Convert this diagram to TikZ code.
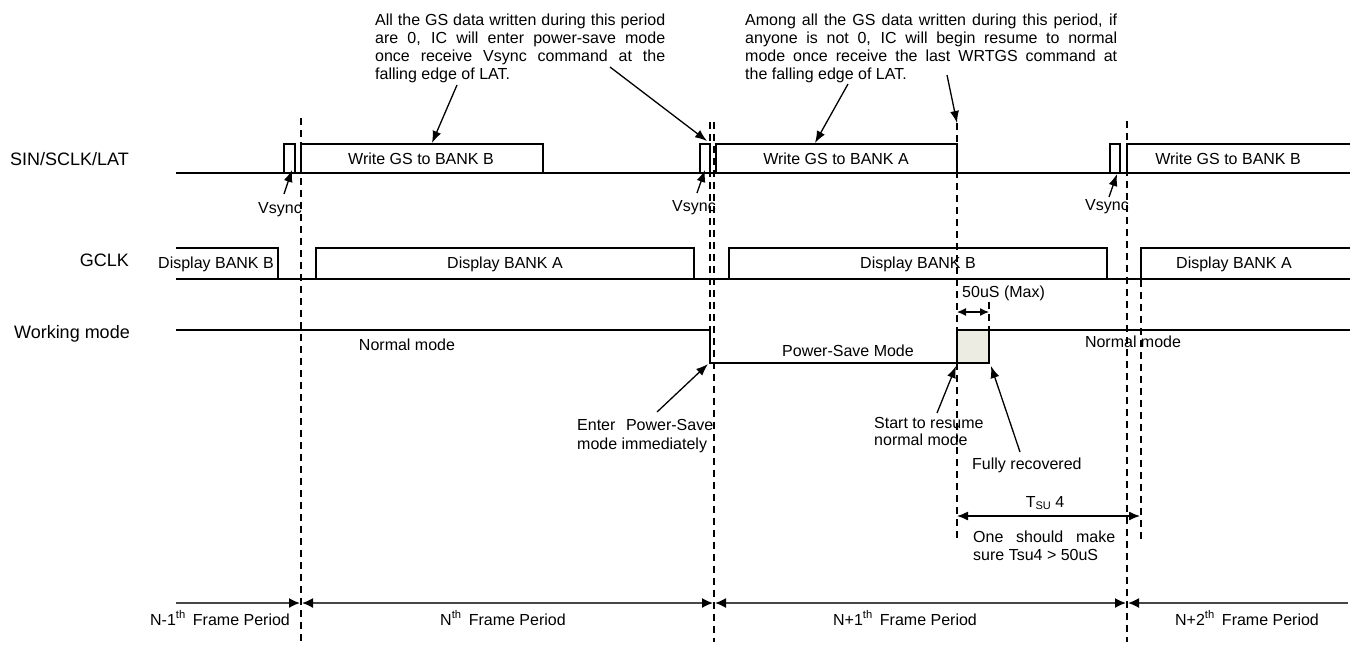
\documentclass[tikz,border=0pt]{standalone}
\usepackage{fontspec}
\setmainfont{Liberation Sans}
\usetikzlibrary{arrows.meta}
\definecolor{beige}{RGB}{236,236,226}
\begin{document}
\begin{tikzpicture}[x=1pt,y=-1pt,
  sig/.style={line width=2pt, line join=miter},
  dsh/.style={line width=1.2pt, dash pattern=on 7pt off 5pt},
  ann/.style={line width=1.3pt, -{Latex[length=12pt,width=9pt]}},
  dim/.style={line width=1.3pt, {Latex[length=11pt,width=9pt]}-{Latex[length=11pt,width=9pt]}},
  fr/.style={line width=1.6pt, draw=black!72},
  frtip/.tip={Latex[length=11pt,width=10pt,color=black]},
  txt/.style={font=\fontsize{16}{18.3}\selectfont, inner sep=0pt},
  lbl/.style={font=\fontsize{18}{20}\selectfont, inner sep=0pt, anchor=east},
  line/.style={txt, anchor=base west}
]
\useasboundingbox (0,0) rectangle (1351,646);

% ---------- row labels
\node[lbl] (lsin) at (129,159) {SIN/SCLK/LAT};
\node[lbl] (lgclk) at (129,260) {GCLK};
\node[lbl] (lwm) at (130,334) {Working mode};

% ---------- dashed guides
\draw[dsh] (301,118) -- (301,642);
\draw[dsh] (710,122) -- (710,330);
\draw[dsh] (714,122) -- (714,642);
\draw[dsh] (957,123) -- (957,542);
\draw[dsh] (1127,121) -- (1127,642);
\draw[dsh] (1141,280) -- (1141,542);
\draw[dsh] (989,302) -- (989,329);

% ---------- SIN/SCLK/LAT
\draw[sig] (176,173) -- (1350,173);
\draw[sig] (284,173) |- (295,144) -- (295,173);
\draw[sig] (301,173) |- (543,144) -- (543,173);
\draw[sig] (700,173) |- (710,144) -- (710,173);
\draw[sig] (716,173) |- (957,144) -- (957,173);
\draw[sig] (1110,173) |- (1120,144) -- (1120,173);
\draw[sig] (1127,173) |- (1350,144);
\node[txt] (wb1) at (421,159) {Write GS to BANK B};
\node[txt] (wa) at (836,159) {Write GS to BANK A};
\node[txt] (wb2) at (1228,159) {Write GS to BANK B};

% ---------- GCLK
\draw[sig] (176,279) -- (1350,279);
\draw[sig] (176,248) -- (278,248) -- (278,279);
\draw[sig] (316,279) |- (694,248) -- (694,279);
\draw[sig] (729,279) |- (1107,248) -- (1107,279);
\draw[sig] (1141,279) |- (1350,248);
\node[txt] (db0) at (216,264) {Display BANK B};
\node[txt] (da1) at (505,264) {Display BANK A};
\node[txt] (db1) at (918,264) {Display BANK B};
\node[txt] (da2) at (1234,264) {Display BANK A};

% ---------- Working mode
\draw[sig] (176,330) -- (710,330) -- (710,363) -- (957,363);
\filldraw[sig, fill=beige] (957,363) rectangle (989,330);
\draw[sig] (957,330) -- (1350,330);
\node[txt] (nm1) at (407,345) {Normal mode};
\node[txt] (psm) at (848,351) {Power-Save Mode};
\node[txt] (nm2) at (1133,342) {Normal mode};

% ---------- Vsync labels & arrows
\node[txt] (vs1) at (280,210) {Vsync};
\node[txt] (vs2) at (694,208) {Vsync};
\node[txt] (vs3) at (1107,207) {Vsync};
\coordinate (vs1a) at (284,194); \coordinate (vs1b) at (292,170);
\coordinate (vs2a) at (697,193); \coordinate (vs2b) at (705,170);
\coordinate (vs3a) at (1109,197); \coordinate (vs3b) at (1117,174);
\draw[ann] (vs1a) -- (vs1b);
\draw[ann] (vs2a) -- (vs2b);
\draw[ann] (vs3a) -- (vs3b);

% ---------- annotation 1
\node[line] (a1l1) at (375,25) {\makebox[290pt][s]{All the GS data written during this period}};
\node[line] (a1l2) at (375,43.3) {\makebox[290pt][s]{are 0, IC will enter power-save mode}};
\node[line] (a1l3) at (375,61.6) {\makebox[290pt][s]{once receive Vsync command at the}};
\node[line] (a1l4) at (375,79.9) {falling edge of LAT.};
\coordinate (a1s) at (457,85); \coordinate (a1e) at (432,143);
\coordinate (a2s) at (610,67); \coordinate (a2e) at (707,141);
\draw[ann] (a1s) -- (a1e);
\draw[ann] (a2s) -- (a2e);

% ---------- annotation 2
\node[line] (b1l1) at (745,25) {\makebox[372pt][s]{Among all the GS data written during this period, if}};
\node[line] (b1l2) at (745,43.3) {\makebox[372pt][s]{anyone is not 0, IC will begin resume to normal}};
\node[line] (b1l3) at (745,61.6) {\makebox[372pt][s]{mode once receive the last WRTGS command at}};
\node[line] (b1l4) at (745,79.9) {the falling edge of LAT.};
\coordinate (b1s) at (848,84); \coordinate (b1e) at (815,143);
\coordinate (b2s) at (947,75); \coordinate (b2e) at (957,123);
\draw[ann] (b1s) -- (b1e);
\draw[ann] (b2s) -- (b2e);

% ---------- 50uS
\node[txt, anchor=west] (t50) at (962,293) {50uS (Max)};
\coordinate (d50a) at (957,312); \coordinate (d50b) at (989,312);
\draw[line width=1.2pt, {Latex[length=9pt,width=8pt]}-{Latex[length=9pt,width=8pt]}] (d50a) -- (d50b);

% ---------- mode annotations
\node[line] (ep1) at (577,430) {\makebox[136pt][s]{Enter Power-Save}};
\node[line] (ep2) at (577,449) {mode immediately};
\coordinate (eps) at (657,412); \coordinate (epe) at (708,364);
\draw[ann] (eps) -- (epe);

\node[line] (sr1) at (874,428) {Start to resume};
\node[line] (sr2) at (874,445.5) {normal mode};
\coordinate (srs) at (937,413); \coordinate (sre) at (956,366);
\draw[ann] (srs) -- (sre);

\node[line] (fr1) at (972,469) {Fully recovered};
\coordinate (frs) at (1020,452); \coordinate (fre) at (991,366);
\draw[ann] (frs) -- (fre);

% ---------- Tsu4
\node[txt] (tsu) at (1045,503) {T\raisebox{-0.25ex}{\fontsize{11}{11}\selectfont SU} 4};
\coordinate (tsa) at (957,516); \coordinate (tsb) at (1140,516);
\draw[dim] (tsa) -- (tsb);
\node[line] (os1) at (973,542) {\makebox[142pt][s]{One should make}};
\node[line] (os2) at (973,560) {sure Tsu4 > 50uS};

% ---------- frame periods
\coordinate (f0) at (176,603); \coordinate (f1a) at (300,603);
\coordinate (f1b) at (302,603); \coordinate (f2a) at (713,603);
\coordinate (f2b) at (715,603); \coordinate (f3a) at (1126,603);
\coordinate (f3b) at (1128,603); \coordinate (f4) at (1348,603);
\draw[fr, -frtip] (f0) -- (f1a);
\draw[fr, frtip-frtip] (f1b) -- (f2a);
\draw[fr, frtip-frtip] (f2b) -- (f3a);
\draw[fr, frtip-] (f3b) -- (f4);
\node[txt] (p0) at (220,618) {N-1\textsuperscript{th}\hspace{0.45em}Frame Period};
\node[txt] (p1) at (503,618) {N\textsuperscript{th}\hspace{0.45em}Frame Period};
\node[txt] (p2) at (905,618) {N+1\textsuperscript{th}\hspace{0.45em}Frame Period};
\node[txt] (p3) at (1247,618) {N+2\textsuperscript{th}\hspace{0.45em}Frame Period};
\end{tikzpicture}
\end{document}
